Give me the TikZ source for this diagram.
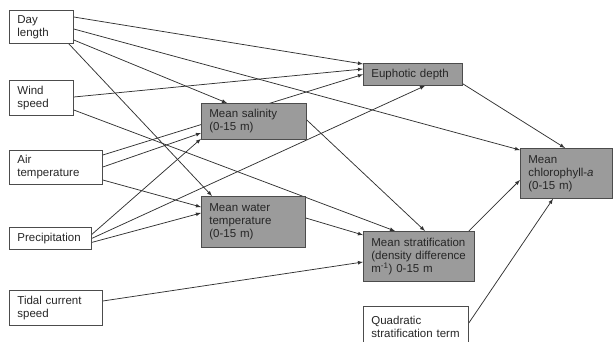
\documentclass[tikz,border=0pt]{standalone}
\usepackage{fontspec}
\setmainfont{Liberation Sans}
\usepackage{tikz}
\usetikzlibrary{backgrounds}
\usetikzlibrary{calc}
\definecolor{boxgray}{RGB}{155,155,155}
\definecolor{linegray}{RGB}{50,50,50}
\tikzset{every picture/.style={line width=0.8pt},
obs/.style={draw=black!70,text=black!85,anchor=north west,align=left,inner xsep=8pt,inner ysep=0pt,font=\fontsize{11.5}{13}\selectfont},
lat/.style={obs,fill=boxgray},
edge/.style={draw=linegray,line width=0.75pt,-latex}}

\begin{document}
\begin{tikzpicture}[x=1pt,y=-1pt]
\useasboundingbox (0,0) rectangle (613,341);

% exogenous variables
\node (day) [obs,text width=48pt,minimum height=33pt] at (9,10) {Day\\length};
\node (wind) [obs,text width=48pt,minimum height=35pt] at (9,80) {Wind\\speed};
\node (air) [obs,text width=77pt,minimum height=34pt] at (9,150) {Air\\temperature};
\node (prec) [obs,text width=66pt,minimum height=22pt] at (9,227) {Precipitation};
\node (tide) [obs,text width=77pt,minimum height=35pt] at (9,290) {Tidal current\\speed};

% mediating variables
\node (sal) [lat,text width=89pt,minimum height=36pt] at (201,103) {Mean salinity\\(0-15 m)};
\node (wtemp) [lat,text width=88pt,minimum height=51pt] at (201,196) {Mean water\\temperature\\(0-15 m)};
\node (euph) [lat,text width=83pt,minimum height=22pt] at (363,63) {Euphotic depth};
\node (strat) [lat,text width=95pt,minimum height=50pt] at (363,231) {Mean stratification\\(density difference\\m\textsuperscript{-1}) 0-15 m};
\node (quad) [obs,text width=89pt,minimum height=40pt] at (363,306) {Quadratic\\stratification term};
\node (chl) [lat,text width=76pt,minimum height=50pt] at (520,148) {Mean\\chlorophyll-\textit{a}\\(0-15 m)};

\begin{scope}[on background layer]
\draw[edge] ($(day.north east)+(0,7)$) -- ($(euph.north west)+(0,1)$);
\draw[edge] ($(day.north east)+(0,19)$) -- ($(chl.north west)+(0,2)$);
\draw[edge] ($(day.north east)+(0,30)$) -- ($(sal.north west)+(26,0)$);
\draw[edge] ($(day.south east)+(-5,0)$) -- ($(wtemp.north west)+(11,0)$);
\draw[edge] ($(wind.north east)+(0,17)$) -- ($(euph.north west)+(0,6)$);
\draw[edge] ($(wind.north east)+(0,30)$) -- ($(strat.north west)+(32,0)$);
\draw[edge] ($(air.north east)+(0,5)$) -- (euph.west);
\draw[edge] ($(air.north east)+(0,17)$) -- ($(sal.north west)+(0,30)$);
\draw[edge] ($(air.north east)+(0,30)$) -- ($(wtemp.north west)+(0,11)$);
\draw[edge] ($(prec.east)+(0,-4)$) -- ($(sal.south west)+(0,-1)$);
\draw[edge] (prec.east) -- ($(euph.south west)+(62,0)$);
\draw[edge] ($(prec.east)+(0,4)$) -- ($(wtemp.north west)+(0,17)$);
\draw[edge] ($(tide.north east)+(0,11)$) -- ($(strat.north west)+(0,31)$);
\draw[edge] ($(sal.north east)+(0,17)$) -- ($(strat.north west)+(62,0)$);
\draw[edge] ($(wtemp.north east)+(0,22)$) -- ($(strat.north west)+(0,4)$);
\draw[edge] ($(euph.south east)+(0,-2)$) -- ($(chl.north west)+(45,0)$);
\draw[edge] ($(strat.north east)+(-6,0)$) -- ($(chl.north west)+(0,32)$);
\draw[edge] ($(quad.north east)+(0,17)$) -- ($(chl.south west)+(33,0)$);
\end{scope}
\end{tikzpicture}
\end{document}
